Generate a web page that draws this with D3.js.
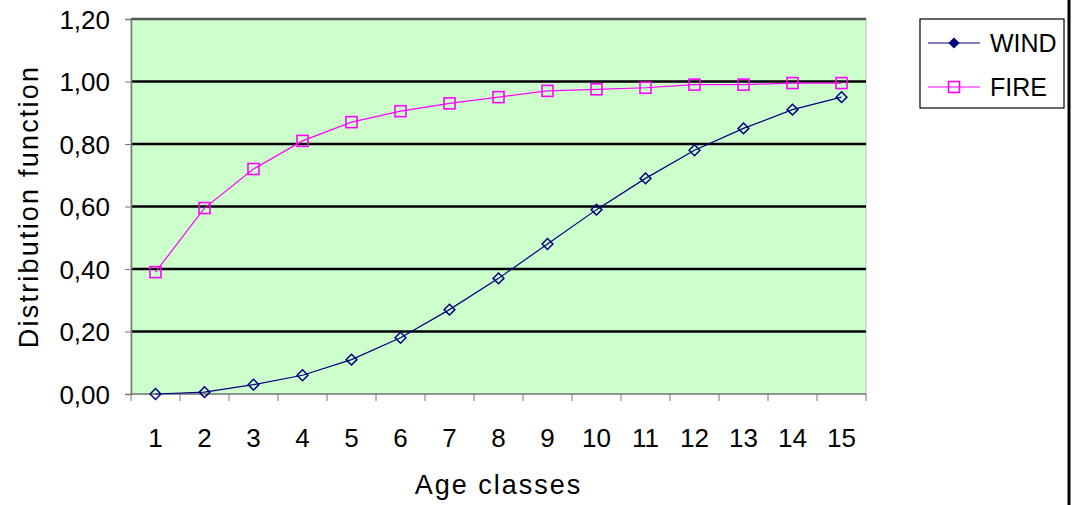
<!DOCTYPE html>
<html>
<head>
<meta charset="utf-8">
<script src="https://cdn.jsdelivr.net/npm/d3@7"></script>
<style>
  body { margin: 0; background: #fff; }
  text { font-family: "Liberation Sans", Arial, sans-serif; fill: #000; }
</style>
</head>
<body>
<div id="chart"></div>
<script>
// age classes on the x axis
const ageClasses = d3.range(1, 16).map(String);
// distribution function values
const windValues = [0.00, 0.006, 0.03, 0.06, 0.11, 0.18, 0.27, 0.37, 0.48, 0.59, 0.69, 0.78, 0.85, 0.91, 0.95];
const fireValues = [0.39, 0.595, 0.72, 0.81, 0.87, 0.905, 0.93, 0.95, 0.97, 0.975, 0.98, 0.99, 0.99, 0.995, 0.995];
const yTicks = [0, 0.2, 0.4, 0.6, 0.8, 1.0, 1.2];
const seriesNames = ['WIND', 'FIRE'];

const svg_width = 1072, svg_height = 505;
const margin = {top: 19, right: 206, bottom: 111, left: 131}; // plot area 131..866 x 19..394

const svg = d3.select('#chart').append('svg')
    .attr('width', svg_width)
    .attr('height', svg_height);

const w = svg_width - margin.left - margin.right;
const h = svg_height - margin.top - margin.bottom;

const chart = svg.append('g')
    .attr('transform', `translate(${margin.left},${margin.top})`);

const x = d3.scaleBand().domain(ageClasses).range([0, w]);
const y = d3.scaleLinear().domain([0, 1.2]).range([h, 0]);

// plot background
chart.append('rect')
    .attr('width', w).attr('height', h)
    .attr('fill', '#ccffcc')
    .attr('stroke', '#c0c0c0');

// gridlines
chart.selectAll('line.grid')
    .data(yTicks.filter(d => d > 0))
    .join('line')
    .classed('grid', true)
    .attr('x1', 0).attr('x2', w)
    .attr('y1', d => y(d)).attr('y2', d => y(d))
    .attr('stroke', d => d === 1.2 ? '#555' : '#000')
    .attr('stroke-width', 2.6);

// y axis
const yAxis = chart.append('g')
    .call(d3.axisLeft(y).tickValues(yTicks).tickSize(6).tickPadding(15)
        .tickFormat(d => d3.format('.2f')(d).replace('.', ',')));
yAxis.select('.domain').attr('stroke', '#777').attr('stroke-width', 1.5);
yAxis.selectAll('.tick line').attr('stroke', '#777');
yAxis.selectAll('text').style('font-size', '26px').attr('dy', '0.36em');

// x axis, ticks on category boundaries
const xAxisG = chart.append('g').attr('transform', `translate(0,${h})`);
xAxisG.append('line')
    .attr('x1', 0).attr('x2', w)
    .attr('stroke', '#777').attr('stroke-width', 1.5);
xAxisG.selectAll('line.tk')
    .data(d3.range(ageClasses.length + 1))
    .join('line')
    .classed('tk', true)
    .attr('x1', i => i * x.bandwidth()).attr('x2', i => i * x.bandwidth())
    .attr('y1', 0).attr('y2', 7)
    .attr('stroke', '#777');
xAxisG.selectAll('text')
    .data(ageClasses)
    .join('text')
    .attr('x', d => x(d) + x.bandwidth() / 2)
    .attr('y', 53)
    .attr('text-anchor', 'middle')
    .style('font-size', '26px')
    .text(d => d);

// axis titles
svg.append('text')
    .attr('x', margin.left + w / 2).attr('y', 494)
    .attr('text-anchor', 'middle')
    .style('font-size', '27px')
    .style('letter-spacing', '2px')
    .text('Age classes');

svg.append('text')
    .attr('transform', `translate(38,${margin.top + h / 2}) rotate(-90)`)
    .attr('text-anchor', 'middle')
    .style('font-size', '27px')
    .style('letter-spacing', '2.2px')
    .text('Distribution function');

// series lines and markers
const line = d3.line()
    .x((d, i) => x(ageClasses[i]) + x.bandwidth() / 2)
    .y(d => y(d));

chart.append('path').datum(fireValues)
    .attr('d', line).attr('fill', 'none')
    .attr('stroke', '#ff00ff').attr('stroke-width', 1.2);
chart.append('path').datum(windValues)
    .attr('d', line).attr('fill', 'none')
    .attr('stroke', '#000080').attr('stroke-width', 1.2);

chart.selectAll('rect.fire')
    .data(fireValues)
    .join('rect')
    .classed('fire', true)
    .attr('x', (d, i) => x(ageClasses[i]) + x.bandwidth() / 2 - 5.5)
    .attr('y', d => y(d) - 5.5)
    .attr('width', 11).attr('height', 11)
    .attr('fill', 'none')
    .attr('stroke', '#ff00ff').attr('stroke-width', 1.6);

chart.selectAll('path.wind')
    .data(windValues)
    .join('path')
    .classed('wind', true)
    .attr('d', d3.symbol(d3.symbolDiamond2, 75)())
    .attr('transform', (d, i) => `translate(${x(ageClasses[i]) + x.bandwidth() / 2},${y(d)})`)
    .attr('fill', 'none')
    .attr('stroke', '#000080').attr('stroke-width', 1.5);

// legend
const legend = svg.append('g').attr('transform', 'translate(920,19)');
legend.append('rect')
    .attr('width', 144).attr('height', 89)
    .attr('fill', '#fff').attr('stroke', '#000').attr('stroke-width', 1.2);

const colors = ['#000080', '#ff00ff'];
seriesNames.forEach((name, i) => {
    const gy = 24 + i * 44;
    legend.append('line')
        .attr('x1', 8).attr('x2', 60).attr('y1', gy).attr('y2', gy)
        .attr('stroke', colors[i]).attr('stroke-width', 1.2);
    if (i === 0) {
        legend.append('path')
            .attr('d', d3.symbol(d3.symbolDiamond2, 80)())
            .attr('transform', `translate(34,${gy})`)
            .attr('fill', colors[i]);
    } else {
        legend.append('rect')
            .attr('x', 28.5).attr('y', gy - 5.5).attr('width', 11).attr('height', 11)
            .attr('fill', 'none').attr('stroke', colors[i]).attr('stroke-width', 1.6);
    }
    legend.append('text')
        .attr('x', 70).attr('y', gy + 9)
        .style('font-size', '25px')
        .text(name);
});

// outer frame edge on the right
svg.append('line')
    .attr('x1', 1069).attr('x2', 1069).attr('y1', 0).attr('y2', svg_height)
    .attr('stroke', '#000').attr('stroke-width', 3);
</script>
</body>
</html>
